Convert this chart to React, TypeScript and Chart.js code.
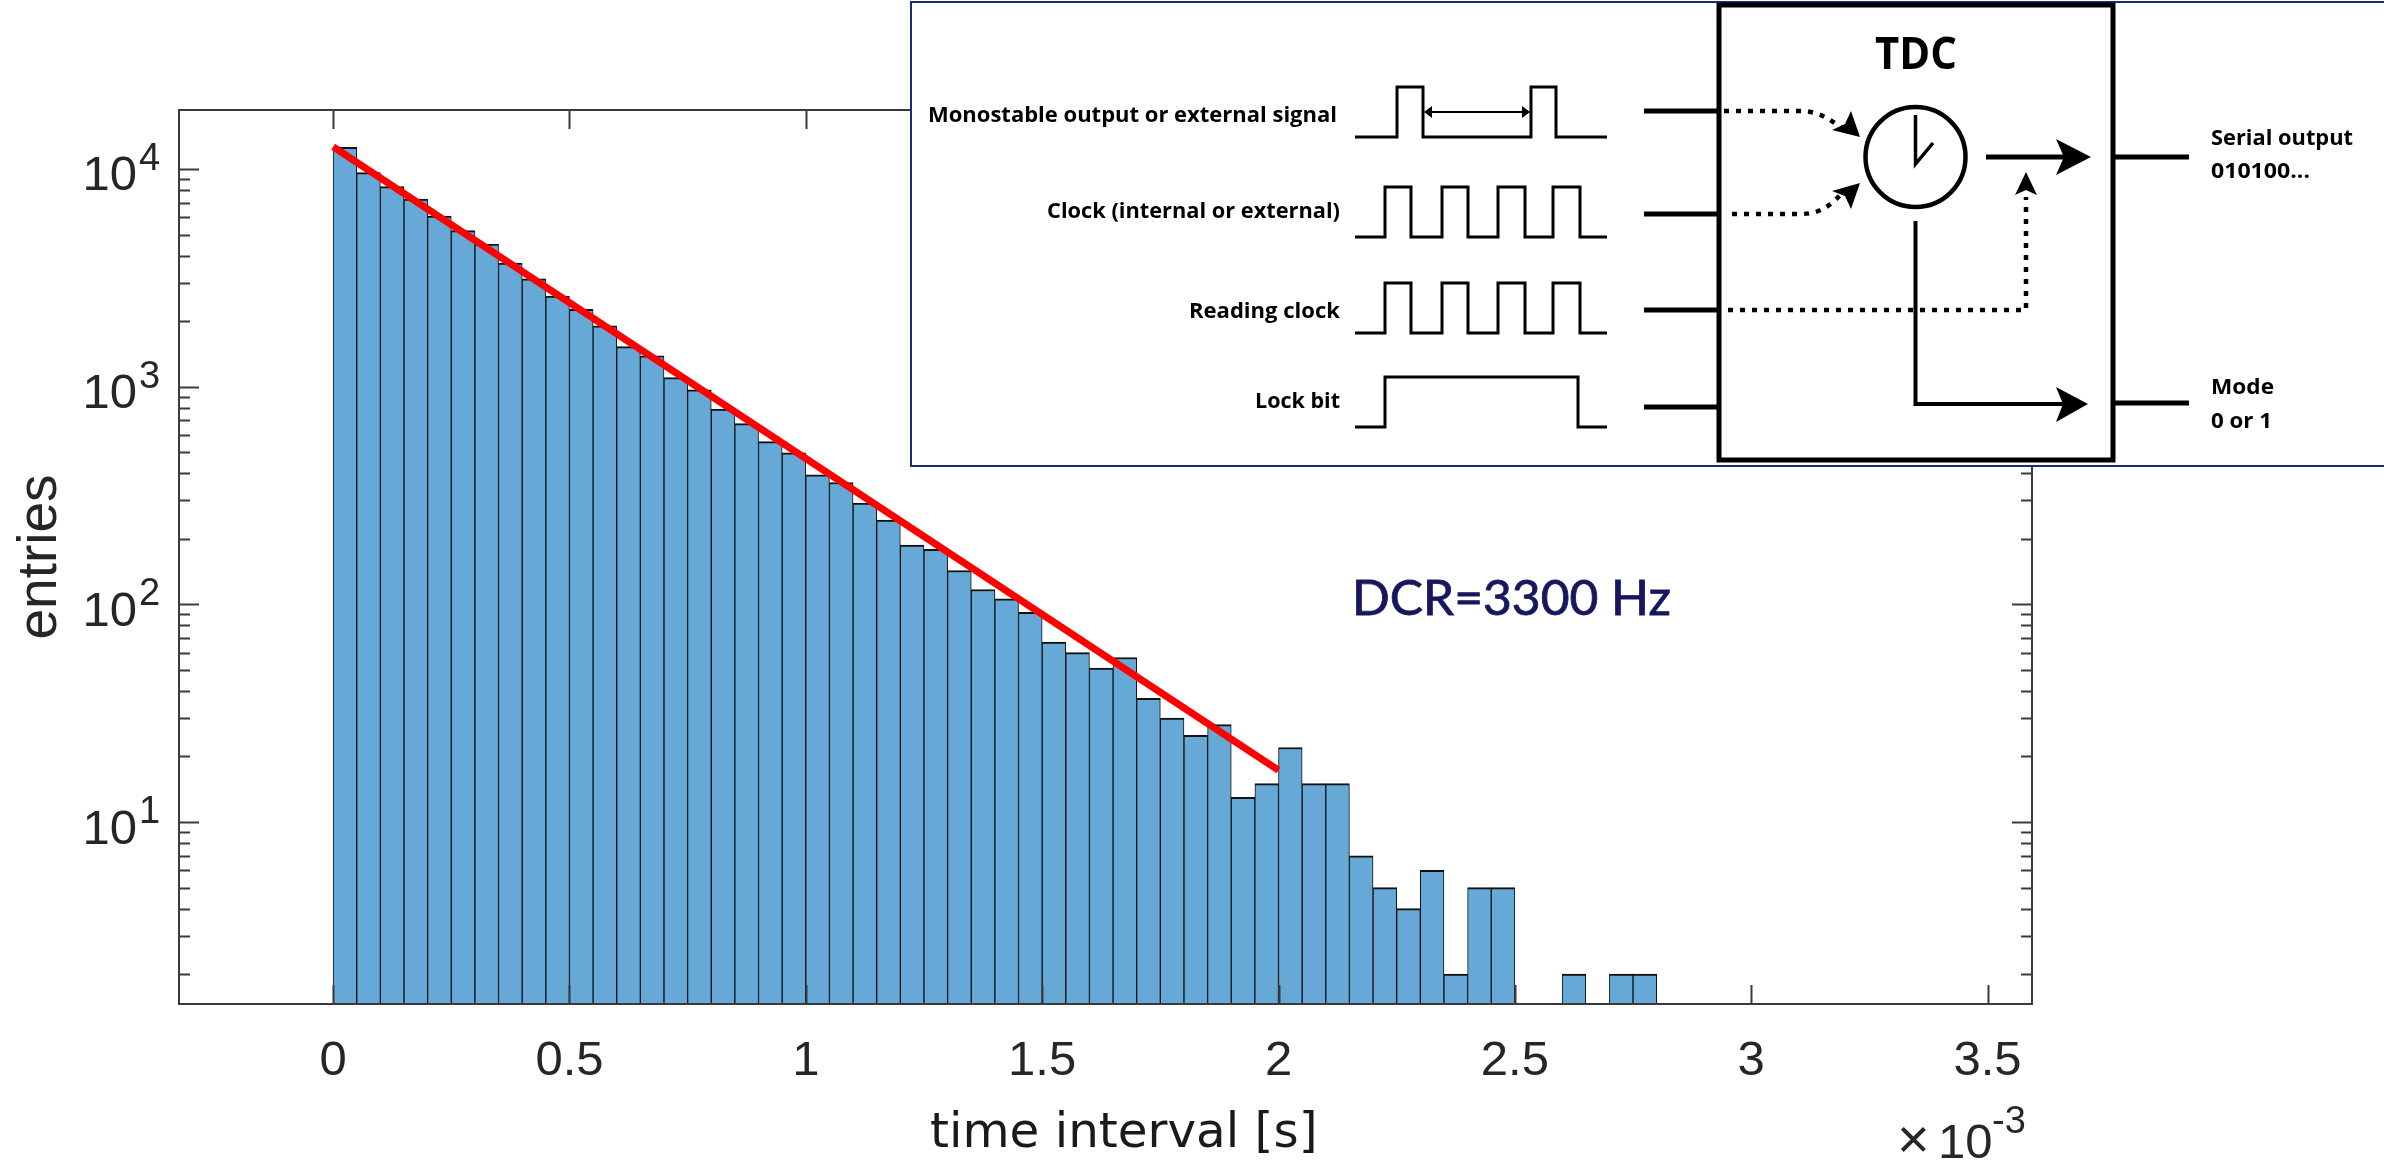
import React, { useEffect, useRef } from "react";
import { Chart, registerables } from "chart.js";

Chart.register(...registerables);

const binWidth = 0.05;
const counts = [
  12570, 9620, 8295, 7280, 6080, 5210, 4520, 3700, 3130, 2610,
  2265, 1905, 1526, 1384, 1100, 968, 789, 676, 559, 497,
  393, 363, 292, 244, 187, 179, 143, 117, 106, 92,
  67, 60, 51, 57, 37, 30, 25, 28, 13, 15,
  22, 15, 15, 7, 5, 4, 6, 2, 5, 5,
  0, 0, 2, 0, 2, 2,
];
const fitX = [0, 2];
const fitY = [12650, 17.3];
const xTicks = [0, 0.5, 1, 1.5, 2, 2.5, 3, 3.5];
const yDecades = [10, 100, 1000, 10000];
const yMinor = [
  2, 3, 4, 5, 6, 7, 8, 9,
  20, 30, 40, 50, 60, 70, 80, 90,
  200, 300, 400, 500, 600, 700, 800, 900,
  2000, 3000, 4000, 5000, 6000, 7000, 8000, 9000,
];
const xLabel = "time interval [s]";
const yLabel = "entries";
const annotation = "DCR=3300 Hz";
const FONT = "'Liberation Sans', Arial, sans-serif";
const INK = "#262626";

const framePlugin = {
  id: "frame",
  afterDatasetsDraw(chart: any) {
    const { ctx, chartArea: a, scales } = chart;
    ctx.save();
    ctx.strokeStyle = "#3a3a3a";
    ctx.lineWidth = 2;
    ctx.beginPath();
    for (const v of xTicks) {
      const p = Math.round(scales.x.getPixelForValue(v)) + 0.5;
      ctx.moveTo(p, a.bottom);
      ctx.lineTo(p, a.bottom - 19);
      ctx.moveTo(p, a.top);
      ctx.lineTo(p, a.top + 19);
    }
    for (const v of yDecades) {
      const p = Math.round(scales.y.getPixelForValue(v)) + 0.5;
      ctx.moveTo(a.left, p);
      ctx.lineTo(a.left + 20, p);
      ctx.moveTo(a.right, p);
      ctx.lineTo(a.right - 20, p);
    }
    for (const v of yMinor) {
      const p = Math.round(scales.y.getPixelForValue(v)) + 0.5;
      ctx.moveTo(a.left, p);
      ctx.lineTo(a.left + 11, p);
      ctx.moveTo(a.right, p);
      ctx.lineTo(a.right - 11, p);
    }
    ctx.stroke();
    ctx.strokeRect(a.left, a.top, a.right - a.left, a.bottom - a.top);

    ctx.fillStyle = INK;
    ctx.textBaseline = "alphabetic";
    ctx.textAlign = "left";
    ctx.font = `38px ${FONT}`;
    for (const v of yDecades) {
      const p = scales.y.getPixelForValue(v);
      ctx.fillText(String(Math.round(Math.log10(v))), 139, p + 1);
    }
    ctx.font = `56px ${FONT}`;
    ctx.fillText("\u00d7", 1897, 1158);
    ctx.font = `49px ${FONT}`;
    ctx.fillText("10", 1938, 1158);
    ctx.font = `38px ${FONT}`;
    ctx.fillText("-3", 1992, 1133);

    ctx.fillStyle = "#1a1a1a";
    ctx.font = "48.4px 'DejaVu Sans', sans-serif";
    ctx.fillText(xLabel, 930, 1147);
    ctx.restore();
  },
};

const ink = { fill: "none", stroke: "#000" };

function wave(points: number[], base: number, high: number) {
  let d = `M${points[0]} ${base}`;
  let level = base;
  for (let i = 1; i < points.length - 1; i++) {
    d += ` L${points[i]} ${level}`;
    level = level === base ? high : base;
    d += ` L${points[i]} ${level}`;
  }
  d += ` L${points[points.length - 1]} ${level}`;
  return d;
}

const clockEdges = [1355, 1385, 1411, 1442, 1468, 1498, 1525, 1553, 1580, 1607];

function Inset() {
  const label = { fontFamily: "'Open Sans', sans-serif", fontWeight: 700, fontSize: 22, fill: "#000" } as any;
  const fit = { lengthAdjust: "spacingAndGlyphs" } as any;
  return (
    <svg width={2384} height={1161} style={{ position: "absolute", left: 0, top: 0 }}>
      <rect x={911} y={2} width={1480} height={464} fill="#fff" stroke="#1f2a78" strokeWidth={2} />
      <text x={1352} y={615} fontFamily="Lato, sans-serif" fontSize={48} fill="#17175f" stroke="#17175f" strokeWidth={0.8} textLength={319} {...fit}>{annotation}</text>

      <rect x={1719} y={5} width={394} height={455} {...ink} strokeWidth={5} />
      <text x={1875} y={69} {...label} fontSize={44} textLength={82} {...fit}>TDC</text>

      <text x={928} y={122} {...label} textLength={409} {...fit}>Monostable output or external signal</text>
      <text x={1047} y={218} {...label} textLength={293} {...fit}>Clock (internal or external)</text>
      <text x={1189} y={318} {...label} textLength={151} {...fit}>Reading clock</text>
      <text x={1255} y={408} {...label} textLength={85} {...fit}>Lock bit</text>
      <text x={2211} y={145} {...label} textLength={142} {...fit}>Serial output</text>
      <text x={2211} y={178} {...label} textLength={99} {...fit}>010100...</text>
      <text x={2211} y={394} {...label} textLength={63} {...fit}>Mode</text>
      <text x={2211} y={428} {...label} textLength={61} {...fit}>0 or 1</text>

      <path d={wave([1355, 1397, 1423, 1531, 1556, 1607], 137, 87)} {...ink} strokeWidth={3} />
      <path d={wave(clockEdges, 237, 187)} {...ink} strokeWidth={3} />
      <path d={wave(clockEdges, 333, 283)} {...ink} strokeWidth={3} />
      <path d={wave([1355, 1385, 1578, 1607], 427, 377)} {...ink} strokeWidth={3} />
      <path d="M1425 112 H1529" {...ink} strokeWidth={2} />
      <path d="M1424 112 l8 -6 v12 Z M1530 112 l-8 -6 v12 Z" fill="#000" />

      <g {...ink} strokeWidth={5}>
        <path d="M1644 111 H1719 M1644 214 H1719 M1644 310 H1719 M1644 407 H1719" />
        <path d="M2113 157 H2189 M2113 403 H2189" />
        <path d="M1986 157 H2066" />
      </g>
      <path d="M2091 157 L2056 139 L2064 157 L2056 175 Z" fill="#000" />

      <g {...ink} strokeWidth={4.5} strokeDasharray="5 7">
        <path d="M1724 111 H1800 C1822 111 1832 122 1845 130" />
        <path d="M1732 214 H1800 C1822 214 1832 204 1845 190" />
        <path d="M1728 310 H2026 V197" />
      </g>
      <path d="M1860 137 L1832 130 L1845 124 L1851 111 Z" fill="#000" />
      <path d="M1860 183 L1851 209 L1845 196 L1832 191 Z" fill="#000" />
      <path d="M2026 172 L2015 195 L2026 190 L2037 195 Z" fill="#000" />

      <circle cx={1915.5} cy={157} r={50} {...ink} strokeWidth={4.5} fill="#fff" />
      <path d="M1915.5 115 V164 L1933 143" {...ink} strokeWidth={3.5} />
      <path d="M1915.5 221 V404 H2066" {...ink} strokeWidth={4} />
      <path d="M2088 404 L2056 387 L2063 404 L2056 422 Z" fill="#000" />
    </svg>
  );
}

export default function App() {
  const ref = useRef<HTMLCanvasElement>(null);
  useEffect(() => {
    const chart = new Chart(ref.current as HTMLCanvasElement, {
      type: "bar",
      data: {
        datasets: [
          {
            type: "line",
            data: fitX.map((x, i) => ({ x, y: fitY[i] })),
            borderColor: "#ff0000",
            borderWidth: 7,
            pointRadius: 0,
            order: 0,
          },
          {
            type: "bar",
            data: counts.map((c, i) => ({ x: (i + 0.5) * binWidth, y: c > 0 ? c : null })),
            backgroundColor: "#66a9d7",
            borderColor: "#111111",
            borderWidth: { top: 2, left: 1, right: 1, bottom: 0 },
            borderSkipped: false,
            barPercentage: 1,
            categoryPercentage: 1,
            order: 1,
          },
        ] as any,
      },
      options: {
        animation: false,
        responsive: false,
        layout: { padding: { top: 110, right: 352, left: 0, bottom: 0 } },
        plugins: { legend: { display: false }, title: { display: false }, tooltip: { enabled: false } },
        scales: {
          x: {
            type: "linear",
            offset: false,
            min: -0.326,
            max: 3.594,
            grid: { display: false, drawTicks: false, offset: false },
            border: { display: false },
            afterBuildTicks: (s: any) => {
              s.ticks = xTicks.map((value) => ({ value }));
            },
            afterFit: (s: any) => {
              s.height = 157;
            },
            ticks: {
              autoSkip: false,
              maxRotation: 0,
              padding: 28,
              color: INK,
              font: { family: FONT, size: 49 },
              callback: (v: any) => String(v),
            },
          },
          y: {
            type: "logarithmic",
            min: 1.459,
            max: 18660,
            grid: { display: false, drawTicks: false },
            border: { display: false },
            afterBuildTicks: (s: any) => {
              s.ticks = [...yMinor, ...yDecades].sort((a, b) => a - b).map((value) => ({ value }));
            },
            afterFit: (s: any) => {
              s.width = 179;
            },
            ticks: {
              autoSkip: false,
              padding: 42,
              labelOffset: 8,
              color: INK,
              font: { family: FONT, size: 49 },
              callback: (v: any) => (yDecades.includes(Number(v)) ? "10" : ""),
            },
            title: {
              display: true,
              text: yLabel,
              color: INK,
              font: { family: FONT, size: 55 },
              padding: { top: 8, bottom: 0 },
            },
          },
        },
      } as any,
      plugins: [framePlugin],
    });
    return () => chart.destroy();
  }, []);
  return (
    <div style={{ position: "absolute", left: 0, top: 0, width: 2384, height: 1161, overflow: "hidden", background: "#fff" }}>
      <canvas ref={ref} width={2384} height={1161} style={{ position: "absolute", left: 0, top: 0 }} />
      <Inset />
    </div>
  );
}
